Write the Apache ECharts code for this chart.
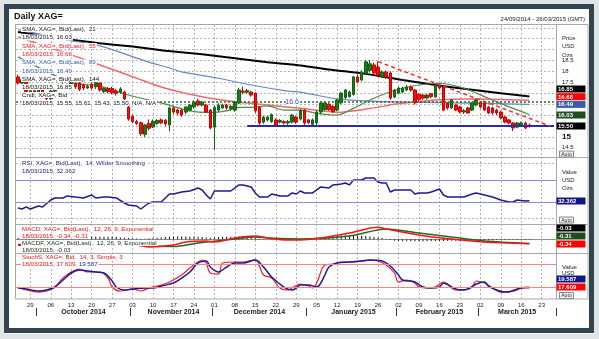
<!DOCTYPE html>
<html><head><meta charset="utf-8"><title>Daily XAG=</title>
<script src="https://cdn.jsdelivr.net/npm/echarts@6.0.0/dist/echarts.min.js"></script>
<style>html,body{margin:0;padding:0;background:#fff;}#chart{width:599px;height:339px;}</style>
</head><body><div id="chart"></div><script>
// ---------- categories: trading days 24/09/2014 .. 26/03/2015 ----------
const dates = [];
(function () {
  const s = Date.UTC(2014, 8, 24), e = Date.UTC(2015, 2, 26);
  for (let t = s; t <= e; t += 86400000) {
    const d = new Date(t), w = d.getUTCDay();
    if (w > 0 && w < 6) dates.push(d.toISOString().slice(0, 10));
  }
})();
const monthKeys = ['2014-10', '2014-11', '2014-12', '2015-01', '2015-02', '2015-03'];
const monthLabels = ['October 2014', 'November 2014', 'December 2014', 'January 2015', 'February 2015', 'March 2015'];

// ---------- price candles [open, close, low, high] ----------
const candles = [
[17.75,17.47,17.40,17.85],[17.47,17.62,17.42,17.70],[17.62,17.05,16.98,17.66],[17.05,17.12,16.95,17.25],[17.12,16.95,16.85,17.20],
[16.95,17.15,16.90,17.22],[17.15,16.98,16.90,17.20],[16.98,16.75,16.60,17.00],[16.75,17.10,16.70,17.15],[17.10,17.30,17.05,17.35],
[17.30,17.35,17.20,17.45],[17.35,17.40,17.25,17.50],[17.40,17.35,17.25,17.45],[17.35,17.47,17.30,17.55],[17.45,17.30,17.20,17.50],
[17.47,17.18,17.10,17.60],[17.38,17.24,17.15,17.45],[17.24,17.32,17.20,17.40],[17.42,17.24,17.18,17.50],[17.30,17.48,17.20,17.55],
[17.47,17.15,17.08,17.50],[17.08,17.22,17.00,17.28],[17.22,17.08,17.00,17.28],[17.22,17.02,16.95,17.30],[17.10,17.00,16.90,17.20],
[17.05,17.20,16.98,17.28],[17.06,16.74,16.65,17.12],[16.37,15.82,15.75,16.42],[15.95,15.70,15.62,16.02],[15.70,15.62,15.55,15.78],
[15.65,15.15,15.05,15.70],[15.12,15.55,15.00,15.60],[15.62,15.40,15.30,15.80],[15.45,15.72,15.40,15.80],[15.62,15.75,15.55,15.82],
[15.78,15.65,15.58,15.85],[15.76,15.60,15.50,15.82],[15.55,16.33,15.25,16.40],[16.33,16.14,16.05,16.40],[16.23,16.10,16.00,16.30],
[16.23,16.00,15.92,16.28],[16.14,16.37,16.05,16.42],[16.23,16.46,16.18,16.52],[16.37,16.60,16.30,16.68],[16.65,16.46,16.40,16.75],
[16.46,16.60,16.40,16.65],[16.46,16.14,16.10,16.52],[16.23,15.41,15.35,16.28],[15.45,16.35,14.42,16.45],[16.23,16.46,16.15,16.55],
[16.33,16.46,16.28,16.52],[16.46,16.33,16.25,16.52],[16.30,16.40,16.20,16.48],[16.23,16.60,16.15,16.65],[16.55,17.15,16.50,17.25],
[17.10,17.05,16.95,17.30],[17.05,17.12,16.98,17.20],[17.06,16.92,16.85,17.12],[17.00,16.20,16.10,17.05],[16.35,15.64,15.55,16.42],
[15.68,15.91,15.60,15.98],[15.78,15.91,15.70,15.98],[15.70,16.02,15.65,16.08],[15.78,15.55,15.50,15.85],[15.68,15.75,15.62,15.82],
[15.70,15.64,15.58,15.76],[15.64,15.70,15.55,15.78],[15.68,16.00,15.62,16.05],[15.91,15.68,15.60,15.98],[15.82,16.20,15.75,16.28],
[16.23,15.64,15.55,16.28],[15.78,15.66,15.60,15.82],[15.58,15.78,15.45,15.85],[15.64,16.14,15.55,16.20],[16.14,16.56,16.05,16.62],
[16.25,16.56,16.20,16.62],[16.50,16.25,16.20,16.55],[16.40,16.16,16.10,16.45],[16.23,16.69,16.18,16.75],[16.56,17.01,16.50,17.06],
[16.80,17.15,16.75,17.20],[16.85,17.06,16.80,17.12],[16.95,17.75,16.90,17.80],[17.75,17.52,17.45,17.85],[17.61,17.98,17.55,18.05],
[17.93,18.44,17.88,18.53],[18.05,18.35,17.95,18.53],[18.30,17.93,17.85,18.40],[18.20,17.84,17.75,18.45],[17.75,17.98,17.70,18.05],
[17.98,17.75,17.65,18.05],[17.93,16.78,16.70,18.00],[16.83,17.15,16.78,17.20],[17.01,17.24,16.95,17.30],[17.06,17.24,17.00,17.30],
[17.15,17.29,17.10,17.38],[17.29,17.15,17.08,17.36],[17.15,16.56,16.48,17.20],[16.95,16.72,16.62,17.00],[16.92,16.78,16.70,16.98],
[16.78,16.92,16.72,16.98],[16.98,16.85,16.78,17.02],[16.83,17.38,16.80,17.42],[17.38,17.24,17.18,17.45],[17.29,16.23,16.18,17.32],
[16.56,16.33,16.25,16.60],[16.33,16.69,16.28,16.74],[16.46,16.23,16.18,16.50],[16.37,16.14,16.08,16.42],[16.14,16.20,16.05,16.28],
[16.33,16.10,16.05,16.38],[16.23,16.56,16.18,16.60],[16.46,16.69,16.40,16.75],[16.60,16.37,16.30,16.65],[16.56,16.23,16.18,16.60],
[16.37,16.10,16.05,16.42],[16.33,16.10,16.02,16.38],[16.23,16.10,16.00,16.30],[16.14,15.87,15.80,16.20],[15.91,15.68,15.62,15.96],
[15.78,15.64,15.58,15.82],[15.64,15.41,15.27,15.68],[15.45,15.64,15.40,15.68],[15.50,15.64,15.45,15.70],[15.64,15.41,15.36,15.70],
[15.55,15.50,15.43,15.61]
];

// ---------- moving averages, read as [dayIndex, value] ----------
const sma21 = [[0,18.67],[13,17.50],[20,17.33],[27,16.92],[32,16.69],[37,16.46],[42,16.19],[47,16.12],[51,16.19],[54,16.35],[57,16.35],[61,16.42],[65,16.23],[69,16.23],[73,16.08],[78,16.00],[82,16.31],[86,16.69],[90,17.00],[94,17.23],[98,17.38],[103,17.46],[109,17.23],[115,16.77],[119,16.46],[125,16.03]];
const sma55 = [[0,19.58],[12,18.83],[20,18.30],[28,17.76],[36,17.23],[45,16.84],[53,16.61],[61,16.46],[69,16.31],[78,16.13],[86,16.30],[92,16.50],[98,16.62],[102,16.69],[110,16.74],[125,16.68]];
const sma89 = [[0,19.92],[12,19.45],[20,19.17],[32,18.43],[37,18.16],[40,17.98],[49,17.69],[57,17.38],[66,17.10],[69,17.05],[79,16.72],[90,16.62],[100,16.58],[110,16.55],[125,16.49]];
const sma144 = [[0,19.81],[12,19.48],[20,19.29],[28,19.14],[36,18.95],[45,18.79],[53,18.61],[61,18.42],[69,18.27],[77,18.07],[85,17.89],[94,17.61],[102,17.38],[110,17.18],[118,17.00],[125,16.85]];
const smaLast = [16.03, 16.68, 16.49, 16.85];   // 21, 55, 89, 144

// ---------- drawn levels ----------
const priceGrid = [14.5,15,15.5,16,16.5,17,17.5,18,18.5,19,19.5,20];
const priceLabels = [14.5, 15, 17.5, 18, 18.5];
const supportLevel = 15.5, supportFrom = 56;
const levelLine = 16.6, levelLabelAt = 67;
const trendLine = [[88, 18.45], [130, 15.5]];

// ---------- RSI(14) ----------
const rsi = [[0,19],[1,17.3],[2,21],[3,17.3],[5,22.7],[6,21],[8,33.6],[9,37.3],[11,37.3],[12,41],[14,39],[16,37.3],[18,42.7],[19,37.3],[21,39],[22,39],[24,37.3],[26,28.2],[27,24.5],[29,22.7],[30,17.3],[32,28.2],[33,30],[35,30],[37,44.5],[38,44.5],[40,48.2],[42,50],[44,55.5],[45,51.8],[46,42.7],[47,35.5],[48,50],[50,50],[52,50],[54,61],[55,61],[57,57.3],[58,46.4],[59,39],[61,39],[62,44.5],[64,41],[66,41],[67,46.4],[68,44.5],[69,50],[70,46.4],[72,46.4],[74,57.3],[76,55.5],[77,61],[79,62.7],[80,64.5],[81,61],[82,70],[84,70],[85,73.6],[87,73.6],[88,66.4],[89,64.5],[90,64.5],[91,48.2],[92,51.8],[94,51.8],[96,51.8],[97,44.5],[98,46.4],[100,46.4],[101,48.2],[103,53.6],[104,42.7],[105,39],[107,39],[109,39],[111,44.5],[112,46.4],[114,42.7],[116,39],[118,33.6],[120,30],[121,30],[122,33.6],[124,31.8],[125,32.36]];
const rsiLevels = [30, 70];
const rsiLast = 32.362;

// ---------- MACD(12,26,9) ----------
const macd = [[0,-0.45],[8,-0.40],[16,-0.25],[24,-0.22],[28,-0.35],[32,-0.58],[38,-0.43],[41,-0.20],[46,-0.12],[48,-0.20],[53,0.11],[58,0.26],[61,0.11],[66,-0.05],[69,-0.05],[74,0.11],[81,0.49],[88,0.93],[90,0.80],[98,0.34],[106,0.03],[114,-0.20],[120,-0.28],[125,-0.34]];
const macdSignal = [[0,-0.40],[8,-0.42],[16,-0.33],[24,-0.25],[28,-0.28],[32,-0.52],[38,-0.55],[44,-0.28],[53,0.03],[58,0.18],[61,0.11],[69,0.03],[81,0.26],[90,0.80],[98,0.49],[106,0.18],[114,-0.12],[125,-0.31]];
const macdHist = [0.10,0.12,0.12,0.14,0.15,0.15,0.16,0.16,0.18,0.18,0.20,0.20,0.20,0.20,0.20,0.20,0.20,
0.20,0.20,0.20,0.20,0.20,0.20,0.20,0.18,0.15,0.12,0.10,0.08,0.06,0.05,0.05,
0.08,0.10,0.12,0.15,0.18,0.20,0.22,0.22,0.22,0.22,0.20,0.20,0.20,0.18,0.15,0.12,
0.15,0.18,0.20,0.20,0.20,0.20,0.22,0.22,0.20,0.18,
0.10,0.05,0.02,0.00,-0.02,-0.03,-0.04,-0.05,-0.05,-0.05,-0.05,-0.04,-0.03,-0.02,0.00,
0.05,0.10,0.15,0.20,0.25,0.28,0.30,0.32,0.32,0.30,0.30,0.28,0.25,0.22,0.18,0.14,0.10,0.05,
-0.05,-0.10,-0.12,-0.14,-0.15,-0.15,-0.15,-0.15,-0.14,-0.14,-0.13,-0.12,-0.12,-0.12,-0.11,-0.10,-0.10,-0.10,-0.09,-0.08,-0.08,
-0.08,-0.07,-0.07,-0.06,-0.06,-0.05,-0.05,-0.05,-0.04,-0.04,-0.04,-0.03,-0.03,-0.03];
const macdLast = [-0.03, -0.31, -0.34];  // histogram, signal, macd

// ---------- Slow stochastic (14,3,3) ----------
const stochK = [[0,20.1],[2,12.3],[5,7],[7,9.7],[9,20.1],[11,43.6],[13,59.3],[15,67.1],[17,59.3],[20,59.3],[22,43.6],[23,20.1],[25,9.7],[28,14.9],[30,9.7],[32,17.5],[35,25.3],[37,33.2],[40,51.4],[42,69.7],[44,85.4],[45,90.6],[46,82.8],[47,56.7],[49,54],[50,82.8],[53,85.4],[55,85.4],[58,90.6],[60,51.4],[62,43.6],[64,17.5],[66,12.3],[67,17.5],[69,27.9],[71,22.7],[72,17.5],[73,30.5],[75,77.5],[77,80.2],[79,85.4],[81,85.4],[84,88],[86,90.6],[88,88],[90,77.5],[92,56.7],[93,33.2],[95,38.4],[97,30.5],[98,20.1],[100,17.5],[102,20.1],[104,33.2],[105,27.9],[107,12.3],[109,12.3],[111,20.1],[112,35.8],[114,30.5],[116,17.5],[118,7],[120,7],[121,12.3],[123,17.5],[125,17.61]];
const stochD = [[0,17.5],[2,14.9],[5,9.7],[7,12.3],[9,20.1],[11,38.4],[13,56.7],[15,64.5],[17,61.9],[19,59.3],[21,56.7],[23,35.8],[24,20.1],[26,12.3],[28,14.9],[31,17.5],[33,17.5],[35,22.7],[38,30.5],[40,43.6],[42,59.3],[44,82.8],[46,88],[47,72.3],[49,59.3],[51,72.3],[53,82.8],[55,82.8],[58,90.6],[60,72.3],[62,46.2],[65,20.1],[67,12.3],[68,17.5],[69,25.3],[71,25.3],[73,20.1],[75,51.4],[76,72.3],[78,82.8],[81,85.4],[84,88],[86,90.6],[89,88],[91,75],[93,51.4],[94,38.4],[97,33.2],[99,20.1],[101,17.5],[103,20.1],[104,30.5],[106,20.1],[108,12.3],[110,14.9],[112,27.9],[114,33.2],[115,22.7],[117,12.3],[119,7],[121,9.7],[123,17.5],[125,19.59]];
const stochLevels = [20, 80];
const stochLast = [19.587, 17.609];  // %D, %K

// ---------- helpers ----------
const isMon = i => new Date(dates[i] + 'T00:00:00Z').getUTCDay() === 1;
const monthStarts = new Set(), monthMid = new Map();
(function () {
  const span = {};
  dates.forEach((d, i) => {
    const k = d.slice(0, 7);
    if (i > 0 && k !== dates[i - 1].slice(0, 7)) monthStarts.add(i);
    if (!span[k]) span[k] = [i, i]; else span[k][1] = i;
  });
  monthKeys.forEach((k, j) => { if (span[k]) monthMid.set(Math.ceil((span[k][0] + span[k][1]) / 2), monthLabels[j]); });
})();
const fmtD = s => s.slice(8, 10) + '/' + s.slice(5, 7) + '/' + s.slice(0, 4);
const lastDay = fmtD(dates[candles.length - 1]);
const lastC = candles[candles.length - 1];

const DOT = { color: '#b6b6b6', width: 1, type: [2, 2] };
const FAM = '"Liberation Sans", Arial, sans-serif';
const F = (s, b) => (b ? 'bold ' : '') + s + 'px ' + FAM;

function xAx(gi) {
  return { type: 'category', gridIndex: gi, data: dates, boundaryGap: true,
    axisLine: { show: false }, axisTick: { show: false }, axisLabel: { show: false },
    splitLine: { show: true, interval: i => isMon(i), alignWithLabel: true, lineStyle: DOT } };
}
const xDays = xAx(3);
xDays.axisLabel = { show: true, interval: i => isMon(i), formatter: v => v.slice(8, 10), fontSize: 6, color: '#222', margin: 3, hideOverlap: false };
const xMonths = { type: 'category', gridIndex: 3, data: dates, position: 'bottom', offset: 9, boundaryGap: true,
  axisLine: { show: false }, splitLine: { show: false },
  axisTick: { show: true, interval: i => monthStarts.has(i), length: 8, lineStyle: { color: '#333', width: 1 } },
  axisLabel: { show: true, interval: i => monthMid.has(i), formatter: (v, i) => monthMid.get(i) || '', fontSize: 7, fontWeight: 'bold', color: '#222', margin: 1, hideOverlap: false } };

function line(xi, data, color, width, smooth, z) {
  return { type: 'line', xAxisIndex: xi, yAxisIndex: xi, data, symbol: 'none', smooth: smooth || false,
    lineStyle: { color, width }, itemStyle: { color }, z: z || 2, silent: true, animation: false };
}
const NOL = { silent: true, symbol: ['none', 'none'], label: { show: false }, animation: false };

const series = [
  line(0, sma144, '#000000', 2, 0.2),
  line(0, sma89, '#6b86c4', 1.2, 0.3),
  line(0, sma55, '#f06a6a', 1.5, 0.3),
  line(0, sma21, '#4c8c4c', 1.2, 0.3),
  { type: 'candlestick', xAxisIndex: 0, yAxisIndex: 0, data: candles, barWidth: 3, clip: false, z: 3, silent: true, animation: false,
    itemStyle: { color: '#1c7a1c', color0: '#f01010', borderColor: '#126012', borderColor0: '#d00000', borderWidth: 1 },
    markLine: Object.assign({}, NOL, { z: 4, data: [
      [{ coord: [supportFrom, supportLevel], lineStyle: { color: '#2b2ba8', width: 2, type: 'solid' } }, { coord: [dates.length - 1, supportLevel] }],
      [{ coord: trendLine[0], lineStyle: { color: '#ff2a2a', width: 1.5, type: [4, 3] } }, { coord: trendLine[1] }],
      { yAxis: levelLine, lineStyle: { color: '#2e6e2e', width: 1.5, type: [2, 2] } }
    ] }),
    markPoint: { silent: true, z: 6, symbol: 'rect', symbolSize: [13, 7], itemStyle: { color: '#ffffff' }, animation: false,
      label: { show: true, position: 'inside', color: '#3050c8', fontSize: 7, fontFamily: FAM, formatter: () => String(levelLine) },
      data: [{ coord: [levelLabelAt, levelLine] }] } },
  Object.assign(line(1, rsi, '#1c1c8e', 1.5, false, 3), {
    markLine: Object.assign({}, NOL, { lineStyle: { color: '#8a8ad8', width: 1, type: 'solid' }, data: rsiLevels.map(v => ({ yAxis: v })) }) }),
  { type: 'bar', xAxisIndex: 2, yAxisIndex: 2, data: macdHist, barWidth: 1, itemStyle: { color: '#111' }, silent: true, animation: false, z: 2 },
  line(2, macdSignal, '#1f6b1f', 1.5, 0.3, 3),
  line(2, macd, '#ff1010', 1.5, 0.3, 3),
  Object.assign(line(3, stochK, '#ff1a1a', 1.2, 0.35, 3), {
    markLine: Object.assign({}, NOL, { lineStyle: { color: '#ff8080', width: 1, type: 'solid' }, data: stochLevels.map(v => ({ yAxis: v })) }) }),
  line(3, stochD, '#1a1a99', 1.5, 0.35, 4)
];

// ---------- graphic decorations ----------
const G = [];
const T = (x, y, text, fill, font, extra) => ({ type: 'text', x, y, z: 100, silent: true,
  style: Object.assign({ text, fill, font, align: 'left', verticalAlign: 'middle' }, extra || {}) });
const BG = { backgroundColor: '#ffffff', padding: [0, 1, 0, 1] };
const LG = F(6.2);
// frame
G.push({ type: 'rect', z: 120, silent: true, shape: { x: 0, y: 0, width: 599, height: 339 }, style: { fill: 'none', stroke: '#dfe4e7', lineWidth: 10 } });
G.push({ type: 'rect', z: 121, silent: true, shape: { x: 6.5, y: 6.5, width: 585, height: 324 }, style: { fill: 'none', stroke: '#34444f', lineWidth: 5 } });
// panel outlines
G.push({ type: 'rect', z: 90, silent: true, shape: { x: 15.5, y: 24.5, width: 572.5, height: 274.5 }, style: { fill: 'none', stroke: '#a8a8a8', lineWidth: 1 } });
[157.5, 224.5, 253.5].forEach(y => G.push({ type: 'line', z: 90, silent: true, shape: { x1: 16, y1: y, x2: 588, y2: y }, style: { stroke: '#a8a8a8', lineWidth: 1 } }));
G.push({ type: 'line', z: 90, silent: true, shape: { x1: 556.5, y1: 25, x2: 556.5, y2: 299 }, style: { stroke: '#a8a8a8', lineWidth: 1 } });
// title & range
G.push(T(14, 17, 'Daily XAG=', '#111', F(9, true)));
G.push(T(585, 19.5, fmtD(dates[0]) + ' - ' + fmtD(dates[dates.length - 1]) + ' (GMT)', '#222', F(6), { align: 'right' }));
// main legend
[
  ['SMA, XAG=, Bid(Last),  21', '#222222', 29],
  [lastDay + ', ' + smaLast[0].toFixed(2), '#222222', 37.5],
  ['SMA, XAG=, Bid(Last),  55', '#ee2222', 46],
  [lastDay + ', ' + smaLast[1].toFixed(2), '#ee2222', 54.5],
  ['SMA, XAG=, Bid(Last),  89', '#3355aa', 62.5],
  [lastDay + ', ' + smaLast[2].toFixed(2), '#3355aa', 71],
  ['SMA, XAG=, Bid(Last),  144', '#111111', 79],
  [lastDay + ', ' + smaLast[3].toFixed(2), '#111111', 87],
  ['Cndl, XAG=, Bid', '#111111', 95],
  [lastDay + ', ' + [lastC[0], lastC[3], lastC[2], lastC[1]].map(v => v.toFixed(2)).join(', ') + ', N/A, N/A', '#111111', 103]
].forEach(r => G.push(T(21, r[2], r[0], r[1], LG, BG)));
// RSI legend
G.push(T(21, 163, 'RSI, XAG=, Bid(Last),  14, Wilder Smoothing', '#22228a', LG, BG));
G.push(T(21, 171, lastDay + ', ' + rsiLast.toFixed(3), '#22228a', LG, BG));
// MACD legend
G.push(T(21, 229, 'MACD, XAG=, Bid(Last),  12, 26, 9, Exponential', '#ee1111', LG, BG));
G.push(T(21, 236, lastDay + ', ' + macdLast[2].toFixed(2) + ', ' + macdLast[1].toFixed(2), '#ee1111', LG, BG));
G.push(T(21, 243, 'MACDF, XAG=, Bid(Last),  12, 26, 9, Exponential', '#1a2a1a', LG, BG));
G.push(T(21, 250, lastDay + ', ' + macdLast[0].toFixed(2), '#1a2a1a', LG, BG));
// Stoch legend
G.push(T(21, 257, 'StochS, XAG=, Bid,  14, 3, Simple, 3', '#ee1111', LG, BG));
G.push(T(21, 264, '{r|' + lastDay + ', ' + stochLast[1].toFixed(3) + ', }{b|' + stochLast[0].toFixed(3) + '}', '#ee1111', LG,
  Object.assign({ rich: { r: { fill: '#ee1111', font: LG }, b: { fill: '#1a1a99', font: LG } } }, BG)));
// right column captions
[['Price', 38], ['USD', 46.5], ['Ozs', 55], ['Value', 172], ['USD', 180], ['Ozs', 188], ['Value', 267], ['USD', 273.5]]
  .forEach(r => G.push(T(562, r[1], r[0], '#222', F(6))));
// Auto buttons
[151, 217, 292.5].forEach(y => {
  G.push({ type: 'rect', z: 100, silent: true, shape: { x: 559.5, y: y, width: 14, height: 6 }, style: { fill: '#f2f2f2', stroke: '#888', lineWidth: 1 } });
  G.push(T(566.5, y + 3.2, 'Auto', '#333', F(5.2), { align: 'center' }));
});
// value boxes
function box(cy, text, fill) {
  G.push({ type: 'rect', z: 100, silent: true, shape: { x: 556.5, y: cy - 3.5, width: 29, height: 7 }, style: { fill } });
  G.push(T(558, cy + 0.3, text, '#ffffff', F(6, true)));
}
box(89, smaLast[3].toFixed(2), '#000000');
box(96.7, smaLast[1].toFixed(2), '#ff0000');
box(104.4, smaLast[2].toFixed(2), '#3a5ea8');
box(115, smaLast[0].toFixed(2), '#1f4d1f');
box(126, lastC[1].toFixed(2), '#000000');
box(201, rsiLast.toFixed(3), '#14148a');
box(228, macdLast[0].toFixed(2), '#000000');
box(236, macdLast[1].toFixed(2), '#1f4d1f');
box(244, macdLast[2].toFixed(2), '#ff0000');
box(279, stochLast[0].toFixed(3), '#14148a');
box(287, stochLast[1].toFixed(3), '#ff0000');

// ---------- option ----------
const option = {
  animation: false,
  backgroundColor: '#ffffff',
  textStyle: { fontFamily: FAM },
  grid: [
    { left: 16, width: 540, top: 25, height: 132, outerBoundsMode: 'none' },
    { left: 16, width: 540, top: 157, height: 67, outerBoundsMode: 'none' },
    { left: 16, width: 540, top: 224, height: 29, outerBoundsMode: 'none' },
    { left: 16, width: 540, top: 253, height: 46, outerBoundsMode: 'none' }
  ],
  xAxis: [xAx(0), xAx(1), xAx(2), xDays, xMonths],
  yAxis: [
    { type: 'value', gridIndex: 0, position: 'right', min: 14.08, max: 20.13,
      axisLine: { show: false }, axisTick: { show: false, customValues: priceGrid },
      axisLabel: { show: true, customValues: priceLabels, fontSize: 6, color: '#222', margin: 6, hideOverlap: false,
        formatter: v => (v === 15 ? '{b|15}' : String(v)), rich: { b: { fontSize: 8, fontWeight: 'bold', color: '#111' } } },
      splitLine: { show: true, lineStyle: DOT } },
    { type: 'value', gridIndex: 1, position: 'right', min: -10, max: 111.8,
      axisLine: { show: false }, axisTick: { show: false, customValues: [0, 100] }, axisLabel: { show: false },
      splitLine: { show: true, lineStyle: DOT } },
    { type: 'value', gridIndex: 2, position: 'right', min: -1.05, max: 1.18,
      axisLine: { show: false }, axisTick: { show: false, customValues: [0] }, axisLabel: { show: false },
      splitLine: { show: true, lineStyle: { color: '#8f8f8f', width: 1 } } },
    { type: 'value', gridIndex: 3, position: 'right', min: -11.2, max: 108.9,
      axisLine: { show: false }, axisTick: { show: false }, axisLabel: { show: false }, splitLine: { show: false } }
  ],
  series,
  graphic: { elements: G }
};
const chart = echarts.init(document.getElementById('chart'), null, { renderer: 'canvas' });
chart.setOption(option);
</script></body></html>
